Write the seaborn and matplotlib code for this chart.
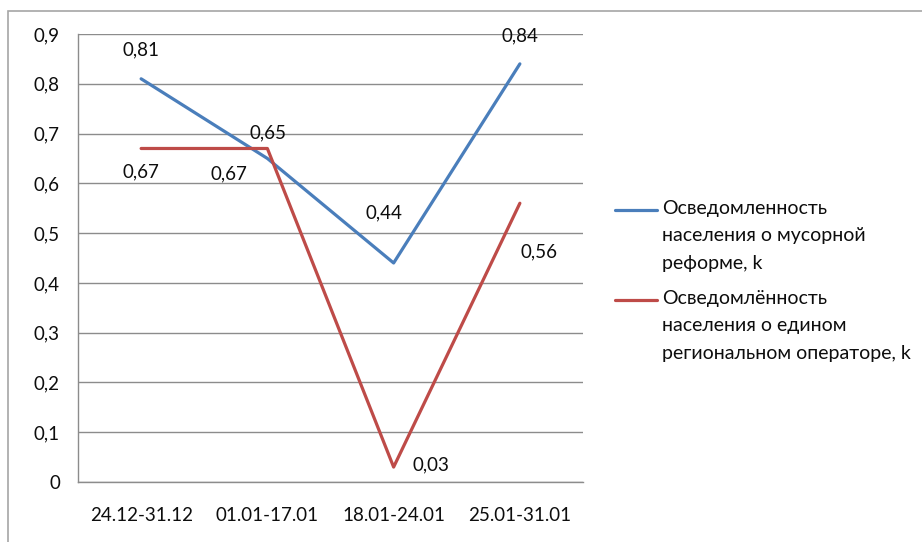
import pandas as pd
import numpy as np
import matplotlib.pyplot as plt
import seaborn as sns
from matplotlib.lines import Line2D
from matplotlib.patches import Rectangle

# =====================
# Data
# =====================
periods = ['24.12-31.12', '01.01-17.01', '18.01-24.01', '25.01-31.01']
reform = [0.81, 0.65, 0.44, 0.84]
operator = [0.67, 0.67, 0.03, 0.56]
series_names = ['Осведомленность\nнаселения о мусорной\nреформе, k',
                'Осведомлённость\nнаселения о едином\nрегиональном операторе, k']
y_ticks = [0, 0.1, 0.2, 0.3, 0.4, 0.5, 0.6, 0.7, 0.8, 0.9]
y_labels = ['0', '0,1', '0,2', '0,3', '0,4', '0,5', '0,6', '0,7', '0,8', '0,9']

df = pd.DataFrame({
    'period': periods * 2,
    'value': reform + operator,
    'series': [series_names[0]] * 4 + [series_names[1]] * 4,
})

# =====================
# Style
# =====================
sns.set_style('white')
plt.rcParams['font.family'] = ['Lato', 'DejaVu Sans']
colors = ['#4A7EBB', '#BE4B48']
grey = '#8C8C8C'
txt = '#0d0d0d'
fs = 13.5
W, H = 922, 542

fig = plt.figure(figsize=(W / 100, H / 100), dpi=100)
ax = fig.add_axes([78 / W, (H - 482) / H, (583 - 78) / W, (482 - 34) / H])

sns.lineplot(data=df, x='period', y='value', hue='series', palette=colors,
             sort=False, linewidth=2.3, legend=False, ax=ax)

ax.set_xlim(-0.5, 3.5)
ax.set_ylim(0, 0.9)
ax.set_yticks(y_ticks)
ax.set_yticklabels(y_labels)
ax.set_xticks(range(len(periods)))
ax.set_xticklabels(periods)
ax.set_xticks(np.arange(-0.5, 4, 1), minor=True)
ax.set_xlabel('')
ax.set_ylabel('')
ax.yaxis.grid(True, color=grey, linewidth=1)
ax.set_axisbelow(True)
for s in ['top', 'right']:
    ax.spines[s].set_visible(False)
for s in ['left', 'bottom']:
    ax.spines[s].set_color(grey)
    ax.spines[s].set_linewidth(1)
ax.tick_params(axis='y', length=5, color=grey, width=1, pad=8, labelsize=fs, labelcolor=txt)
ax.tick_params(axis='x', which='major', length=0, pad=18, labelsize=fs, labelcolor=txt)
ax.tick_params(axis='x', which='minor', length=5, color=grey, width=1)
ax.tick_params(axis='both', direction='out')

# data labels (offsets in pixels)
reform_off = [(0, 29), (1, 26), (-10, 50), (0, 28)]
operator_off = [(0, -23), (-38, -25), (37, 2), (19, -49)]
for vals, offs in [(reform, reform_off), (operator, operator_off)]:
    for i, (v, o) in enumerate(zip(vals, offs)):
        ax.annotate(f'{v:.2f}'.replace('.', ','), (i, v), xytext=o,
                    textcoords='offset pixels', ha='center', va='center',
                    fontsize=fs, color=txt, annotation_clip=False)

# legend
legend_y = [210, 300]
for name, c, ly in zip(series_names, colors, legend_y):
    fig.add_artist(Line2D([615 / W, 657 / W], [(H - ly) / H] * 2,
                          color=c, linewidth=2.3, transform=fig.transFigure))
    fig.text(662 / W, (H - ly + 10) / H, name, ha='left', va='top',
             fontsize=14, color=txt, linespacing=1.75)

# chart border
fig.add_artist(Rectangle((8 / W, -0.1), 1.2, (H - 11) / H + 0.1,
                         transform=fig.transFigure, fill=False,
                         edgecolor='#A6A6A6', linewidth=1.2))

plt.savefig('out.png', dpi=100)
